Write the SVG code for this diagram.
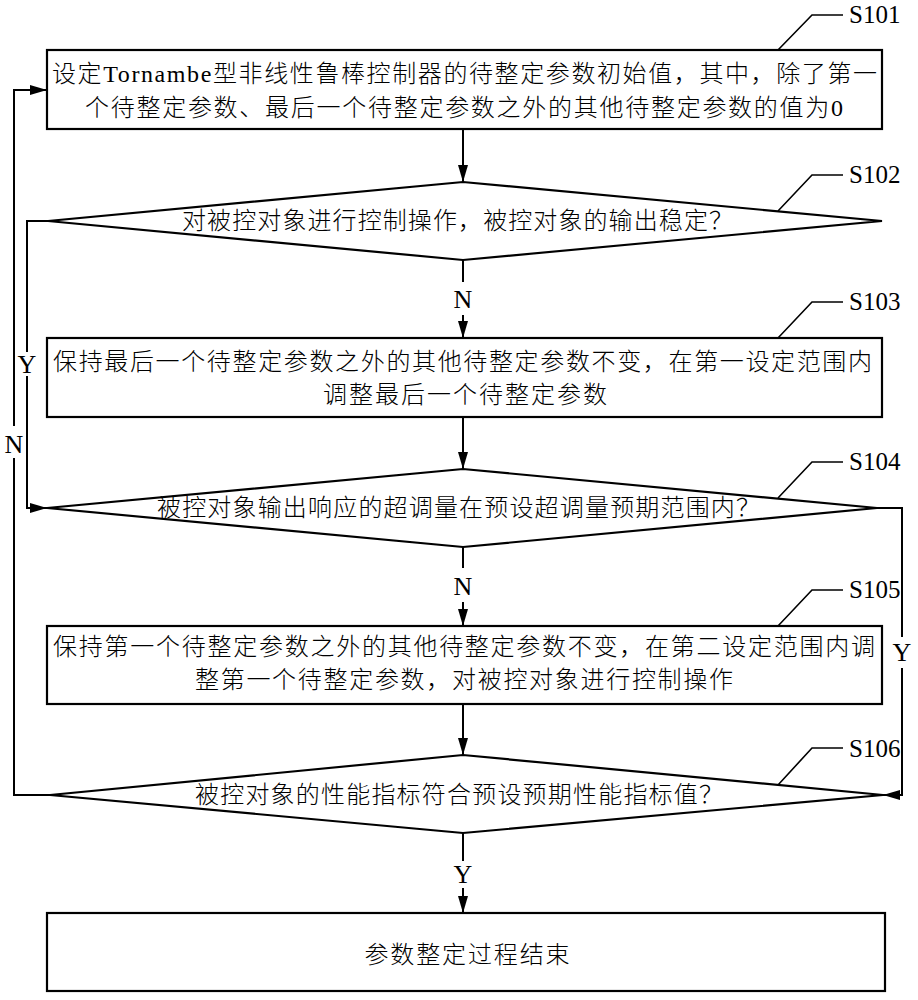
<svg xmlns="http://www.w3.org/2000/svg" width="918" height="1000" viewBox="0 0 918 1000">
<defs>
<marker id="ah" markerUnits="userSpaceOnUse" markerWidth="18" markerHeight="12" refX="17" refY="6" orient="auto">
<path d="M0,1 L17,6 L0,11 Z" fill="#000"/>
</marker>
<style>
.box{fill:#fff;stroke:#000;stroke-width:2.2}
.ln{fill:none;stroke:#000;stroke-width:2}
.thin{fill:none;stroke:#000;stroke-width:1.6}
.t{font-family:"Liberation Serif","Noto Sans CJK SC",serif;font-size:24px;font-weight:300;fill:#000;text-anchor:middle}
.lab{font-family:"Liberation Serif",serif;font-size:25px;fill:#000}
.yn{font-family:"Liberation Serif",serif;font-size:26px;fill:#000;text-anchor:middle}
</style>
</defs>
<rect width="918" height="1000" fill="#fff"/>

<g id="connectors">
<line class="ln" x1="463" y1="129" x2="463" y2="182" marker-end="url(#ah)"/>
<line class="ln" x1="463" y1="260" x2="463" y2="282"/>
<line class="ln" x1="463" y1="315" x2="463" y2="338" marker-end="url(#ah)"/>
<line class="ln" x1="463" y1="417" x2="463" y2="469" marker-end="url(#ah)"/>
<line class="ln" x1="463" y1="547" x2="463" y2="568"/>
<line class="ln" x1="463" y1="602" x2="463" y2="626" marker-end="url(#ah)"/>
<line class="ln" x1="463" y1="704" x2="463" y2="755" marker-end="url(#ah)"/>
<line class="ln" x1="463" y1="833" x2="463" y2="861"/>
<line class="ln" x1="463" y1="888" x2="463" y2="913" marker-end="url(#ah)"/>
<polyline class="ln" points="48,221 27,221 27,352"/>
<polyline class="ln" points="27,376 27,508 47,508" marker-end="url(#ah)"/>
<polyline class="ln" points="50,795 14,795 14,458"/>
<polyline class="ln" points="14,426 14,90 47,90" marker-end="url(#ah)"/>
<polyline class="ln" points="877,508 902,508 902,637"/>
<polyline class="ln" points="902,668 902,795 883,795" marker-end="url(#ah)"/>
<text class="yn" x="463" y="308">N</text>
<text class="yn" x="463" y="595">N</text>
<text class="yn" x="463" y="883">Y</text>
<text class="yn" x="27" y="373">Y</text>
<text class="yn" x="14" y="453">N</text>
<text class="yn" x="902" y="661">Y</text>
</g>

<g id="S101">
<rect class="box" x="47" y="50" width="835" height="79"/>
<text class="t" x="464.5" y="82" textLength="825" lengthAdjust="spacing">设定Tornambe型非线性鲁棒控制器的待整定参数初始值，其中，除了第一</text>
<text class="t" x="464" y="116" textLength="758" lengthAdjust="spacing">个待整定参数、最后一个待整定参数之外的其他待整定参数的值为0</text>
<polyline class="thin" points="778,50 812,15 843,15"/>
<text class="lab" x="849" y="23">S101</text>
</g>

<g id="S102">
<polygon class="box" points="48,221 463,182 882,221 463,260"/>
<text class="t" x="457.5" y="229" textLength="551" lengthAdjust="spacing">对被控对象进行控制操作，被控对象的输出稳定？</text>
<polyline class="thin" points="778,211 812,175 843,175"/>
<text class="lab" x="849" y="183">S102</text>
</g>

<g id="S103">
<rect class="box" x="47" y="338" width="835" height="79"/>
<text class="t" x="462.5" y="370" textLength="819" lengthAdjust="spacing">保持最后一个待整定参数之外的其他待整定参数不变，在第一设定范围内</text>
<text class="t" x="465" y="403" textLength="284" lengthAdjust="spacing">调整最后一个待整定参数</text>
<polyline class="thin" points="778,338 812,302 843,302"/>
<text class="lab" x="849" y="310">S103</text>
</g>

<g id="S104">
<polygon class="box" points="47,508 463,469 877,508 463,547"/>
<text class="t" x="458.5" y="516" textLength="603" lengthAdjust="spacing">被控对象输出响应的超调量在预设超调量预期范围内？</text>
<polyline class="thin" points="778,498 812,462 843,462"/>
<text class="lab" x="849" y="470">S104</text>
</g>

<g id="S105">
<rect class="box" x="47" y="626" width="835" height="78"/>
<text class="t" x="464" y="655" textLength="822" lengthAdjust="spacing">保持第一个待整定参数之外的其他待整定参数不变，在第二设定范围内调</text>
<text class="t" x="464" y="688" textLength="538" lengthAdjust="spacing">整第一个待整定参数，对被控对象进行控制操作</text>
<polyline class="thin" points="778,626 812,590 843,590"/>
<text class="lab" x="849" y="598">S105</text>
</g>

<g id="S106">
<polygon class="box" points="50,795 463,755 883,795 463,833"/>
<text class="t" x="459" y="803" textLength="528" lengthAdjust="spacing">被控对象的性能指标符合预设预期性能指标值？</text>
<polyline class="thin" points="778,785 812,748 843,748"/>
<text class="lab" x="849" y="757">S106</text>
</g>

<g id="end">
<rect class="box" x="47" y="913" width="838" height="78"/>
<text class="t" x="467" y="963" textLength="205" lengthAdjust="spacing">参数整定过程结束</text>
</g>
</svg>
